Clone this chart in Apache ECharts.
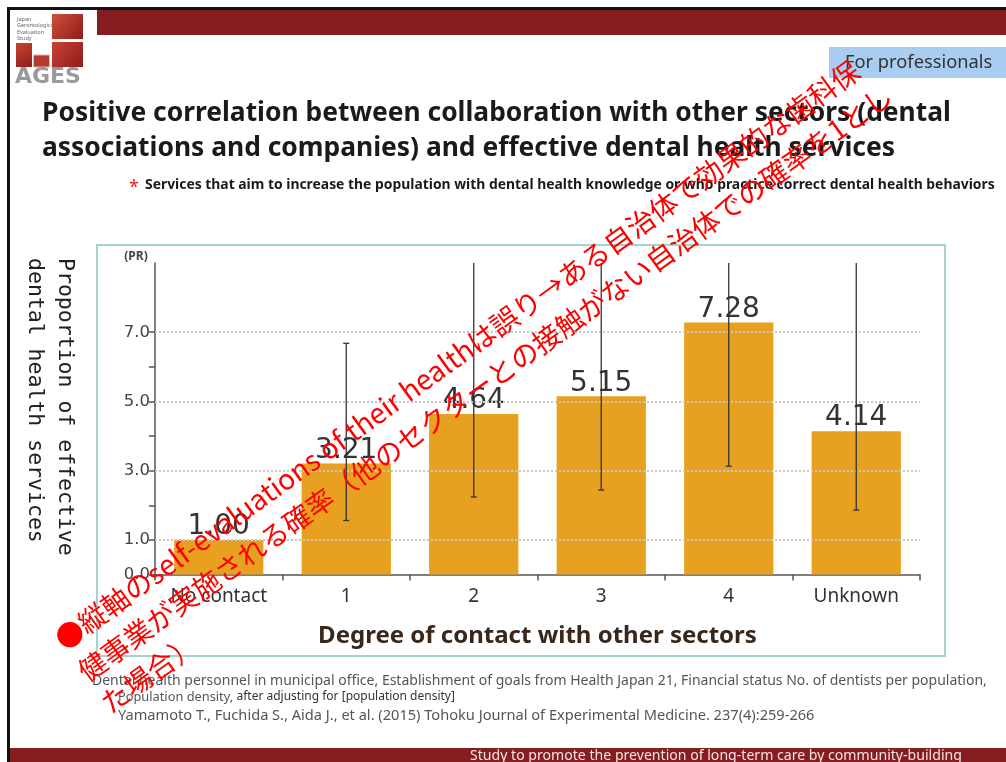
<!DOCTYPE html>
<html>
<head>
<meta charset="utf-8">
<script src="https://cdn.jsdelivr.net/npm/echarts@6/dist/echarts.min.js"></script>
<style>
html,body{margin:0;padding:0;background:#fff;}
#chart{width:1006px;height:762px;}
</style>
</head>
<body>
<div id="chart"></div>
<script>
// ---- data ----
const categories = ['No contact', '1', '2', '3', '4', 'Unknown'];
const prValues = [1.00, 3.21, 4.64, 5.15, 7.28, 4.14];
const ciLower = [null, 1.56, 2.24, 2.44, 3.13, 1.86];
const ciUpper = [null, 6.68, 9.0, 9.0, 9.0, 9.0];
const yLabelValues = [0, 1, 3, 5, 7];
const yTickValues = [0, 1, 2, 3, 4, 5, 6, 7];
const gridValues = [1, 3, 5, 7];
const yMax = 9;

const chart = echarts.init(document.getElementById('chart'));

const errData = [];
categories.forEach((c, i) => {
  if (ciLower[i] != null) errData.push([i, ciLower[i], ciUpper[i]]);
});

const sans = '"Noto Sans", "Open Sans", sans-serif';
const cjk = '"Noto Sans CJK JP", "Noto Sans", sans-serif';

const option = {
  backgroundColor: '#fff',
  animation: false,
  grid: { left: 155, right: 86, top: 263, bottom: 187.5, containLabel: false },
  xAxis: {
    type: 'category',
    data: categories,
    axisLine: { lineStyle: { color: '#555', width: 1.5 } },
    axisTick: { show: true, length: 6, lineStyle: { color: '#555', width: 1.5 } },
    axisLabel: { color: '#333', fontSize: 19, fontFamily: sans, margin: 13 },
    name: 'Degree of contact with other sectors',
    nameLocation: 'middle',
    nameGap: 50,
    nameTextStyle: { color: '#3a271c', fontSize: 24, fontWeight: 'bold', fontFamily: sans }
  },
  yAxis: {
    type: 'value',
    min: 0,
    max: yMax,
    interval: 1,
    axisLine: { show: true, lineStyle: { color: '#555', width: 1.5 } },
    axisTick: { show: true, length: 6, customValues: yTickValues, lineStyle: { color: '#555', width: 1.5 } },
    axisLabel: {
      customValues: yLabelValues,
      formatter: v => v.toFixed(1),
      color: '#444', fontSize: 16.5, fontFamily: '"DejaVu Sans", sans-serif', margin: 5
    },
    splitLine: { show: false }
  },
  series: [
    {
      type: 'line',
      data: categories.map(() => null),
      silent: true,
      z: 1,
      symbol: 'none',
      markLine: {
        silent: true,
        symbol: 'none',
        label: { show: false },
        lineStyle: { color: '#c8c8c8', type: 'dotted', width: 2 },
        data: gridValues.map(v => ({ yAxis: v }))
      }
    },
    {
      type: 'bar',
      data: prValues,
      barWidth: '70%',
      z: 2,
      itemStyle: { color: '#e8a020' },
      label: {
        show: true,
        position: 'top',
        distance: -1,
        formatter: p => p.value.toFixed(2),
        color: '#333',
        fontSize: 28,
        fontFamily: '"DejaVu Sans", sans-serif'
      }
    },
    {
      type: 'custom',
      z: 5,
      data: errData,
      renderItem: function (params, api) {
        const x = api.value(0), lo = api.value(1), hi = api.value(2);
        const pLo = api.coord([x, lo]);
        const pHi = api.coord([x, Math.min(hi, yMax)]);
        const style = { stroke: '#333', lineWidth: 1.3 };
        const ch = [
          { type: 'line', shape: { x1: pLo[0], y1: pLo[1], x2: pHi[0], y2: pHi[1] }, style }
        ];
        ch.push({ type: 'line', shape: { x1: pLo[0] - 3, y1: pLo[1], x2: pLo[0] + 3, y2: pLo[1] }, style });
        if (hi < yMax) ch.push({ type: 'line', shape: { x1: pHi[0] - 3, y1: pHi[1], x2: pHi[0] + 3, y2: pHi[1] }, style });
        return { type: 'group', children: ch };
      }
    }
  ],
  graphic: [
    // slide frame
    { type: 'rect', shape: { x: 7, y: 7, width: 1000, height: 3 }, style: { fill: '#111' }, z: 0 },
    { type: 'rect', shape: { x: 7, y: 7, width: 3, height: 760 }, style: { fill: '#111' }, z: 0 },
    // header band
    { type: 'rect', shape: { x: 97, y: 10, width: 909, height: 25 }, style: { fill: '#861d21' }, z: 0 },
    // footer band
    { type: 'rect', shape: { x: 10, y: 748, width: 996, height: 14 }, style: { fill: '#861d21' }, z: 0 },
    { type: 'text', x: 470, y: 756, style: { text: 'Study to promote the prevention of long-term care by community-building', fill: '#f2e6e6', fontSize: 14.1, fontFamily: sans, textVerticalAlign: 'middle' }, z: 1 },
    // logo
    { type: 'text', x: 17, y: 16, style: { text: 'Japan\nGerontological\nEvaluation\nStudy', fill: '#666', fontSize: 5.5, lineHeight: 6.5, fontFamily: sans }, z: 1 },
    { type: 'rect', shape: { x: 52, y: 14, width: 31, height: 25 }, style: { fill: new echarts.graphic.LinearGradient(0, 0, 1, 1, [{ offset: 0, color: '#d0503a' }, { offset: 1, color: '#8e1c1c' }]) }, z: 1 },
    { type: 'rect', shape: { x: 16, y: 43, width: 16, height: 24 }, style: { fill: new echarts.graphic.LinearGradient(0, 0, 1, 1, [{ offset: 0, color: '#c94433' }, { offset: 1, color: '#8e1c1c' }]) }, z: 1 },
    { type: 'rect', shape: { x: 33.5, y: 55, width: 16, height: 12 }, style: { fill: '#b63a2d', stroke: '#e8b0a8', lineWidth: 1 }, z: 1 },
    { type: 'rect', shape: { x: 52, y: 42, width: 31, height: 25 }, style: { fill: new echarts.graphic.LinearGradient(0, 0, 1, 1, [{ offset: 0, color: '#c94433' }, { offset: 1, color: '#8e1c1c' }]) }, z: 1 },
    { type: 'text', x: 15, y: 77, style: { text: 'AGES', fill: '#9a9a9a', fontSize: 22, fontWeight: 'bold', fontFamily: '"DejaVu Sans", sans-serif', textVerticalAlign: 'middle' }, z: 1 },
    // For professionals
    { type: 'rect', shape: { x: 829, y: 47, width: 177, height: 31 }, style: { fill: '#a9cdf0' }, z: 1 },
    { type: 'text', x: 845, y: 63, style: { text: 'For professionals', fill: '#333', fontSize: 18.3, fontFamily: sans, textVerticalAlign: 'middle' }, z: 2 },
    // title
    { type: 'text', x: 42, y: 113, style: { text: 'Positive correlation between collaboration with other sectors (dental', fill: '#1a1a1a', fontSize: 26.4, fontWeight: 'bold', fontFamily: sans, textVerticalAlign: 'middle' }, z: 1 },
    { type: 'text', x: 42, y: 148, style: { text: 'associations and companies) and effective dental health services', fill: '#1a1a1a', fontSize: 26.4, fontWeight: 'bold', fontFamily: sans, textVerticalAlign: 'middle' }, z: 1 },
    { type: 'text', x: 129, y: 188, style: { text: '*', fill: '#e02020', fontSize: 18, fontFamily: sans, textVerticalAlign: 'middle' }, z: 1 },
    { type: 'text', x: 145, y: 185, style: { text: 'Services that aim to increase the population with dental health knowledge or who practice correct dental health behaviors', fill: '#1a1a1a', fontSize: 13.9, fontWeight: 'bold', fontFamily: sans, textVerticalAlign: 'middle' }, z: 1 },
    // chart frame
    { type: 'rect', shape: { x: 97, y: 245, width: 848, height: 411 }, style: { fill: 'none', stroke: '#a6d4cb', lineWidth: 2 }, z: 1 },
    { type: 'text', x: 136, y: 257, style: { text: '(PR)', fill: '#444', fontSize: 12, fontWeight: 'bold', fontFamily: sans, textAlign: 'center', textVerticalAlign: 'middle' }, z: 1 },
    // y-axis title (vertical)
    { type: 'text', x: 65, y: 258, rotation: -Math.PI / 2, style: { text: 'Proportion of effective', fill: '#222', fontSize: 21.5, fontFamily: '"DejaVu Sans Mono", monospace', textAlign: 'left', textVerticalAlign: 'middle' }, z: 1 },
    { type: 'text', x: 35, y: 258, rotation: -Math.PI / 2, style: { text: 'dental health services', fill: '#222', fontSize: 21.5, fontFamily: '"DejaVu Sans Mono", monospace', textAlign: 'left', textVerticalAlign: 'middle' }, z: 1 },
    // notes
    { type: 'text', x: 92, y: 681, style: { text: 'Dental health personnel in municipal office, Establishment of goals from Health Japan 21, Financial status No. of dentists per population,', fill: '#555', fontSize: 14, fontFamily: sans, textVerticalAlign: 'middle' }, z: 1 },
    { type: 'text', x: 118, y: 697, style: { text: '{a|Population density, }{b|after adjusting for [population density]}', fontFamily: sans, textVerticalAlign: 'middle', rich: { a: { fill: '#555', fontSize: 12.8, fontFamily: sans }, b: { fill: '#333', fontSize: 12, fontFamily: sans } } }, z: 1 },
    { type: 'text', x: 118, y: 716, style: { text: 'Yamamoto T., Fuchida S., Aida J., et al. (2015) Tohoku Journal of Experimental Medicine. 237(4):259-266', fill: '#555', fontSize: 14.6, fontFamily: sans, textVerticalAlign: 'middle' }, z: 1 },
    // red overlay annotation
    { type: 'text', x: 47, y: 627, rotation: 0.625, style: { text: '●縦軸のself-evaluations of their healthは誤り→ある自治体で効果的な歯科保\n健事業が実施される確率（他のセクターとの接触がない自治体での確率を1とし\nた場合）', fill: '#ff0000', fontSize: 28, lineHeight: 39, fontFamily: cjk, textAlign: 'left', textVerticalAlign: 'top' }, z: 100 }
  ]
};
chart.setOption(option);
</script>
</body>
</html>
